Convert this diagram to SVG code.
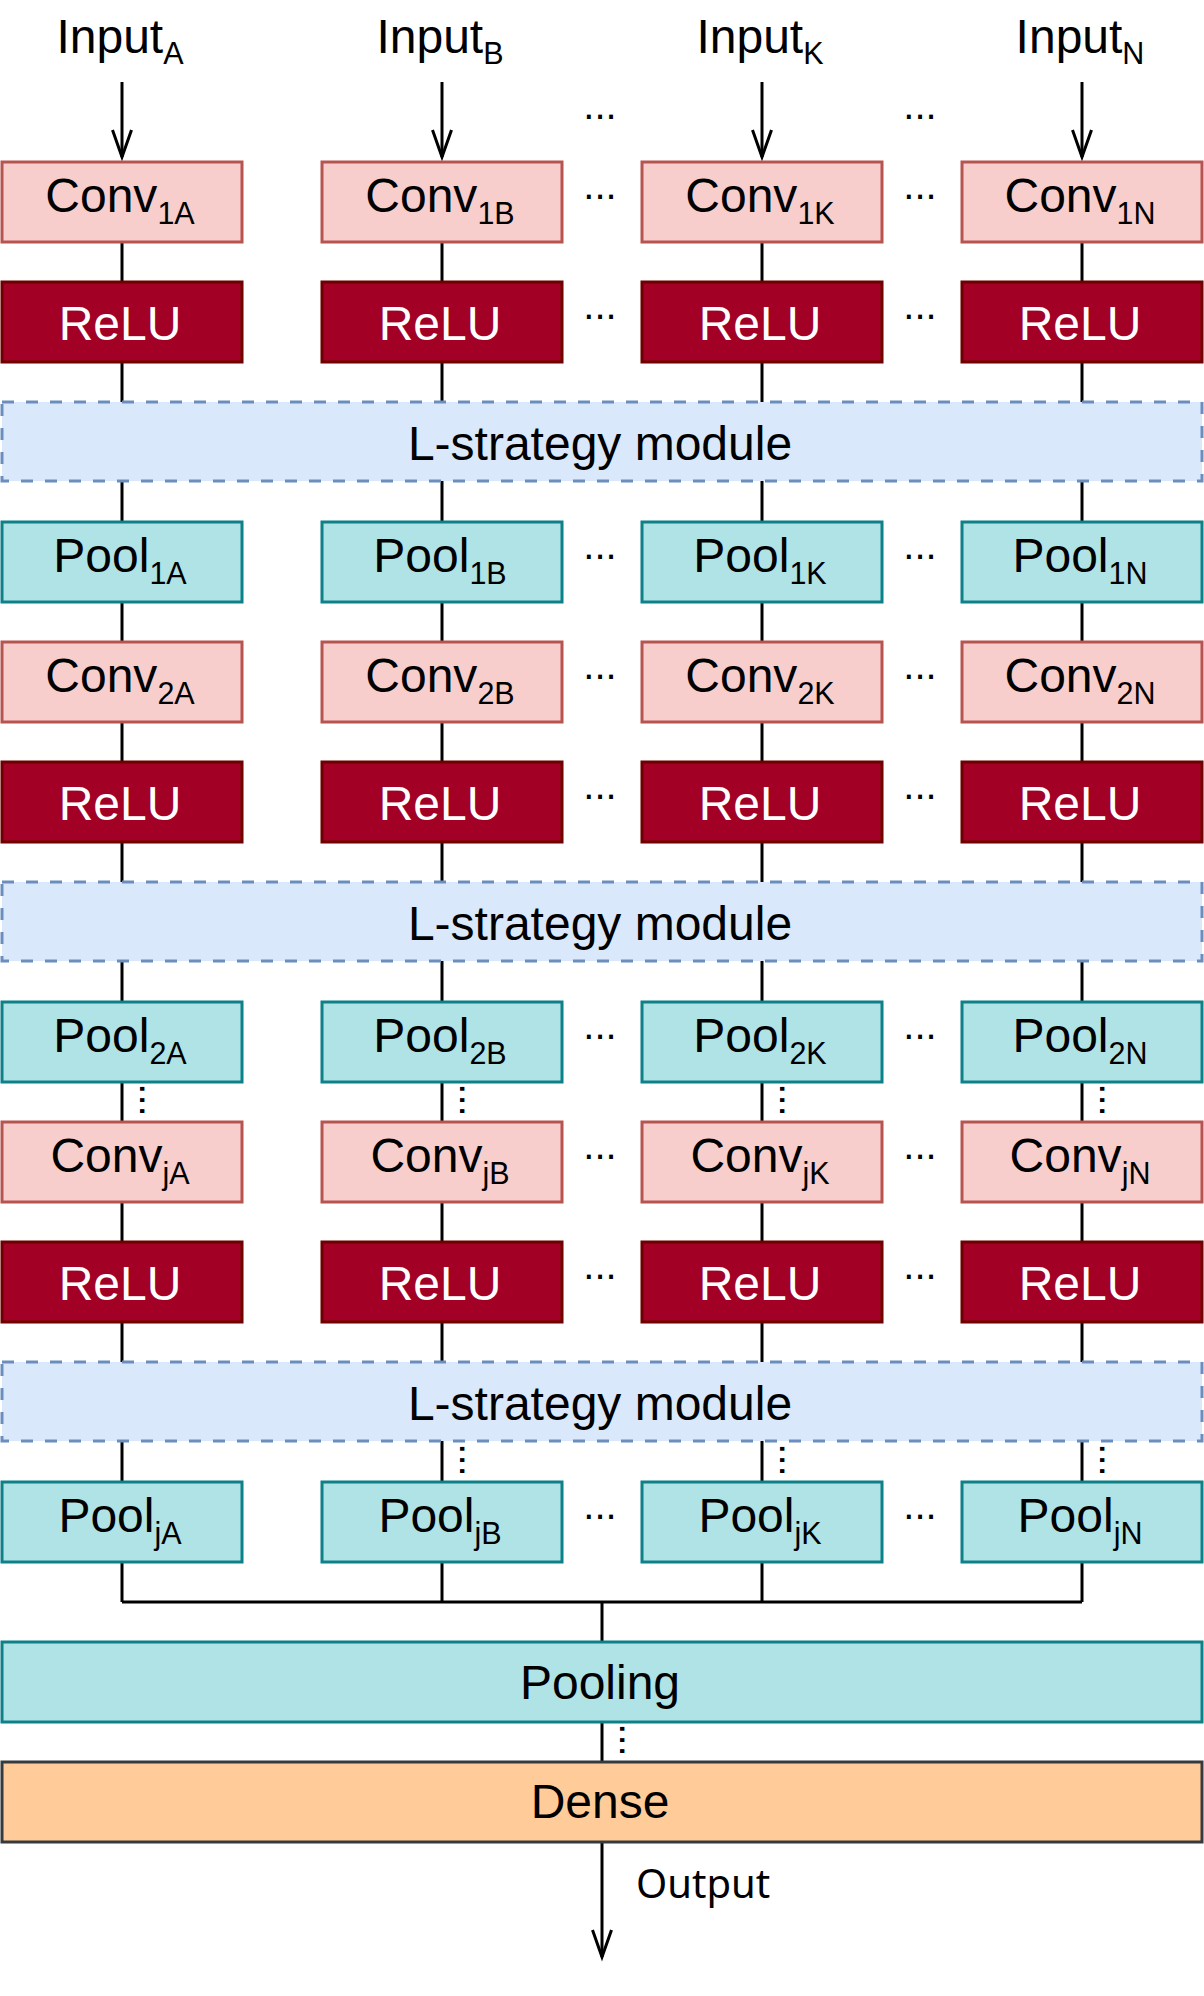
<svg xmlns="http://www.w3.org/2000/svg" width="1204" height="1996" viewBox="0 0 1204 1996">
<defs>
<marker id="arr" markerUnits="userSpaceOnUse" orient="auto" markerWidth="40" markerHeight="40" refX="0" refY="0" overflow="visible">
<path d="M-27,-9.5 L0,0 L-27,9.5" fill="none" stroke="#000" stroke-width="3"/>
</marker>
<style>
text{font-family:"Liberation Sans",Arial,sans-serif;font-size:48px;text-anchor:middle;fill:#000}
.sub{font-size:30.5px}
.conv rect{fill:#f8cecc;stroke:#b85450;stroke-width:3}
.relu rect{fill:#a20025;stroke:#6f0000;stroke-width:3}
.relu text{fill:#fff}
.pool rect{fill:#b0e3e6;stroke:#0e8088;stroke-width:3}
.lmod rect{fill:#dae8fc;stroke:#6c8ebf;stroke-width:3;stroke-dasharray:12 12}
.dense rect{fill:#ffcc99;stroke:#36393d;stroke-width:3}
.edge{fill:none;stroke:#000;stroke-width:3}
.dots{font-size:40px}
.out{font-family:"Noto Sans",sans-serif;font-size:40px;text-anchor:start}
</style>
</defs>
<rect width="1204" height="1996" fill="#fff"/>

<g id="connectors">
<path class="edge" marker-end="url(#arr)" d="M122,82 V157"/>
<path class="edge" marker-end="url(#arr)" d="M442,82 V157"/>
<path class="edge" marker-end="url(#arr)" d="M762,82 V157"/>
<path class="edge" marker-end="url(#arr)" d="M1082,82 V157"/>
<path class="edge" d="M122,242V282M122,362V402M122,481V522M122,602V642M122,722V762M122,842V882M122,961V1002M122,1082V1122M122,1202V1242M122,1322V1362M122,1441V1482M122,1562V1602"/>
<path class="edge" d="M442,242V282M442,362V402M442,481V522M442,602V642M442,722V762M442,842V882M442,961V1002M442,1082V1122M442,1202V1242M442,1322V1362M442,1441V1482M442,1562V1602"/>
<path class="edge" d="M762,242V282M762,362V402M762,481V522M762,602V642M762,722V762M762,842V882M762,961V1002M762,1082V1122M762,1202V1242M762,1322V1362M762,1441V1482M762,1562V1602"/>
<path class="edge" d="M1082,242V282M1082,362V402M1082,481V522M1082,602V642M1082,722V762M1082,842V882M1082,961V1002M1082,1082V1122M1082,1202V1242M1082,1322V1362M1082,1441V1482M1082,1562V1602"/>
<path class="edge" d="M122,1602H1082M602,1602V1642"/>
<path class="edge" d="M602,1722V1762"/>
<path class="edge" marker-end="url(#arr)" d="M602,1842V1957"/>
<text class="dots" transform="rotate(90 140 1100)" x="140" y="1100">...</text>
<text class="dots" transform="rotate(90 460 1100)" x="460" y="1100">...</text>
<text class="dots" transform="rotate(90 780 1100)" x="780" y="1100">...</text>
<text class="dots" transform="rotate(90 1100 1100)" x="1100" y="1100">...</text>
<text class="dots" transform="rotate(90 460 1460)" x="460" y="1460">...</text>
<text class="dots" transform="rotate(90 780 1460)" x="780" y="1460">...</text>
<text class="dots" transform="rotate(90 1100 1460)" x="1100" y="1460">...</text>
<text class="dots" transform="rotate(90 620 1740)" x="620" y="1740">...</text>
<text class="out" x="636" y="1898">Output</text>
</g>

<g id="inputs">
<text x="120" y="53">Input<tspan class="sub" dy="11">A</tspan></text>
<text x="440" y="53">Input<tspan class="sub" dy="11">B</tspan></text>
<text x="760" y="53">Input<tspan class="sub" dy="11">K</tspan></text>
<text x="1080" y="53">Input<tspan class="sub" dy="11">N</tspan></text>
</g>

<g id="ellipses">
<text class="dots" x="600" y="119">...</text><text class="dots" x="920" y="119">...</text>
<text class="dots" x="600" y="199">...</text><text class="dots" x="920" y="199">...</text>
<text class="dots" x="600" y="319">...</text><text class="dots" x="920" y="319">...</text>
<text class="dots" x="600" y="559">...</text><text class="dots" x="920" y="559">...</text>
<text class="dots" x="600" y="679">...</text><text class="dots" x="920" y="679">...</text>
<text class="dots" x="600" y="799">...</text><text class="dots" x="920" y="799">...</text>
<text class="dots" x="600" y="1039">...</text><text class="dots" x="920" y="1039">...</text>
<text class="dots" x="600" y="1159">...</text><text class="dots" x="920" y="1159">...</text>
<text class="dots" x="600" y="1279">...</text><text class="dots" x="920" y="1279">...</text>
<text class="dots" x="600" y="1519">...</text><text class="dots" x="920" y="1519">...</text>
</g>

<g id="conv1A" class="conv"><rect x="2" y="162" width="240" height="80"/><text x="120" y="212">Conv<tspan class="sub" dy="12">1A</tspan></text></g>
<g id="conv1B" class="conv"><rect x="322" y="162" width="240" height="80"/><text x="440" y="212">Conv<tspan class="sub" dy="12">1B</tspan></text></g>
<g id="conv1K" class="conv"><rect x="642" y="162" width="240" height="80"/><text x="760" y="212">Conv<tspan class="sub" dy="12">1K</tspan></text></g>
<g id="conv1N" class="conv"><rect x="962" y="162" width="240" height="80"/><text x="1080" y="212">Conv<tspan class="sub" dy="12">1N</tspan></text></g>

<g id="relu1A" class="relu"><rect x="2" y="282" width="240" height="80"/><text x="120" y="340">ReLU</text></g>
<g id="relu1B" class="relu"><rect x="322" y="282" width="240" height="80"/><text x="440" y="340">ReLU</text></g>
<g id="relu1K" class="relu"><rect x="642" y="282" width="240" height="80"/><text x="760" y="340">ReLU</text></g>
<g id="relu1N" class="relu"><rect x="962" y="282" width="240" height="80"/><text x="1080" y="340">ReLU</text></g>

<g id="lstrategy1" class="lmod"><rect x="2" y="402" width="1200" height="79"/><text x="600" y="460">L-strategy module</text></g>

<g id="pool1A" class="pool"><rect x="2" y="522" width="240" height="80"/><text x="120" y="572">Pool<tspan class="sub" dy="12">1A</tspan></text></g>
<g id="pool1B" class="pool"><rect x="322" y="522" width="240" height="80"/><text x="440" y="572">Pool<tspan class="sub" dy="12">1B</tspan></text></g>
<g id="pool1K" class="pool"><rect x="642" y="522" width="240" height="80"/><text x="760" y="572">Pool<tspan class="sub" dy="12">1K</tspan></text></g>
<g id="pool1N" class="pool"><rect x="962" y="522" width="240" height="80"/><text x="1080" y="572">Pool<tspan class="sub" dy="12">1N</tspan></text></g>

<g id="conv2A" class="conv"><rect x="2" y="642" width="240" height="80"/><text x="120" y="692">Conv<tspan class="sub" dy="12">2A</tspan></text></g>
<g id="conv2B" class="conv"><rect x="322" y="642" width="240" height="80"/><text x="440" y="692">Conv<tspan class="sub" dy="12">2B</tspan></text></g>
<g id="conv2K" class="conv"><rect x="642" y="642" width="240" height="80"/><text x="760" y="692">Conv<tspan class="sub" dy="12">2K</tspan></text></g>
<g id="conv2N" class="conv"><rect x="962" y="642" width="240" height="80"/><text x="1080" y="692">Conv<tspan class="sub" dy="12">2N</tspan></text></g>

<g id="relu2A" class="relu"><rect x="2" y="762" width="240" height="80"/><text x="120" y="820">ReLU</text></g>
<g id="relu2B" class="relu"><rect x="322" y="762" width="240" height="80"/><text x="440" y="820">ReLU</text></g>
<g id="relu2K" class="relu"><rect x="642" y="762" width="240" height="80"/><text x="760" y="820">ReLU</text></g>
<g id="relu2N" class="relu"><rect x="962" y="762" width="240" height="80"/><text x="1080" y="820">ReLU</text></g>

<g id="lstrategy2" class="lmod"><rect x="2" y="882" width="1200" height="79"/><text x="600" y="940">L-strategy module</text></g>

<g id="pool2A" class="pool"><rect x="2" y="1002" width="240" height="80"/><text x="120" y="1052">Pool<tspan class="sub" dy="12">2A</tspan></text></g>
<g id="pool2B" class="pool"><rect x="322" y="1002" width="240" height="80"/><text x="440" y="1052">Pool<tspan class="sub" dy="12">2B</tspan></text></g>
<g id="pool2K" class="pool"><rect x="642" y="1002" width="240" height="80"/><text x="760" y="1052">Pool<tspan class="sub" dy="12">2K</tspan></text></g>
<g id="pool2N" class="pool"><rect x="962" y="1002" width="240" height="80"/><text x="1080" y="1052">Pool<tspan class="sub" dy="12">2N</tspan></text></g>

<g id="convjA" class="conv"><rect x="2" y="1122" width="240" height="80"/><text x="120" y="1172">Conv<tspan class="sub" dy="12">jA</tspan></text></g>
<g id="convjB" class="conv"><rect x="322" y="1122" width="240" height="80"/><text x="440" y="1172">Conv<tspan class="sub" dy="12">jB</tspan></text></g>
<g id="convjK" class="conv"><rect x="642" y="1122" width="240" height="80"/><text x="760" y="1172">Conv<tspan class="sub" dy="12">jK</tspan></text></g>
<g id="convjN" class="conv"><rect x="962" y="1122" width="240" height="80"/><text x="1080" y="1172">Conv<tspan class="sub" dy="12">jN</tspan></text></g>

<g id="relujA" class="relu"><rect x="2" y="1242" width="240" height="80"/><text x="120" y="1300">ReLU</text></g>
<g id="relujB" class="relu"><rect x="322" y="1242" width="240" height="80"/><text x="440" y="1300">ReLU</text></g>
<g id="relujK" class="relu"><rect x="642" y="1242" width="240" height="80"/><text x="760" y="1300">ReLU</text></g>
<g id="relujN" class="relu"><rect x="962" y="1242" width="240" height="80"/><text x="1080" y="1300">ReLU</text></g>

<g id="lstrategy3" class="lmod"><rect x="2" y="1362" width="1200" height="79"/><text x="600" y="1420">L-strategy module</text></g>

<g id="pooljA" class="pool"><rect x="2" y="1482" width="240" height="80"/><text x="120" y="1532">Pool<tspan class="sub" dy="12">jA</tspan></text></g>
<g id="pooljB" class="pool"><rect x="322" y="1482" width="240" height="80"/><text x="440" y="1532">Pool<tspan class="sub" dy="12">jB</tspan></text></g>
<g id="pooljK" class="pool"><rect x="642" y="1482" width="240" height="80"/><text x="760" y="1532">Pool<tspan class="sub" dy="12">jK</tspan></text></g>
<g id="pooljN" class="pool"><rect x="962" y="1482" width="240" height="80"/><text x="1080" y="1532">Pool<tspan class="sub" dy="12">jN</tspan></text></g>

<g id="pooling" class="pool"><rect x="2" y="1642" width="1200" height="80"/><text x="600" y="1699">Pooling</text></g>
<g id="dense" class="dense"><rect x="2" y="1762" width="1200" height="80"/><text x="600" y="1818">Dense</text></g>
</svg>
